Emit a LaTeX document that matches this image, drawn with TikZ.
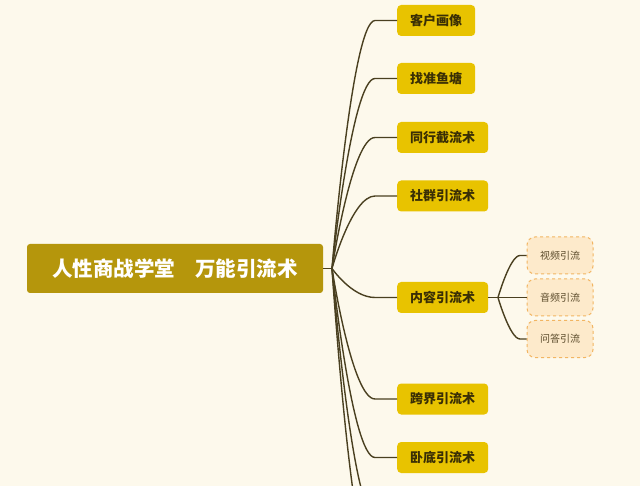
\documentclass[tikz,border=0pt]{standalone}
\usepackage{fontspec}
\setmainfont{Noto Sans CJK SC}
\definecolor{bgc}{HTML}{FDF9EC}
\definecolor{rootc}{HTML}{B5960C}
\definecolor{topc}{HTML}{E8C300}
\definecolor{textc}{HTML}{3A2F05}
\definecolor{subc}{HTML}{FDEACB}
\definecolor{subb}{HTML}{F2B562}
\definecolor{subt}{HTML}{5A4A2A}
\definecolor{linec}{HTML}{4A4020}
\begin{document}
\begin{tikzpicture}[x=1pt,y=-1pt,
 rootbox/.style={fill=rootc, rounded corners=3pt, text=white, font=\bfseries\fontsize{20.5}{22}\selectfont, minimum width=296pt, minimum height=49pt, inner sep=0pt},
 topic/.style={fill=topc, rounded corners=4pt, text=textc, font=\bfseries\fontsize{13}{15}\selectfont, minimum height=31pt, inner sep=0pt, anchor=west},
 subbox/.style={fill=subc, draw=subb, dashed, line width=1pt, rounded corners=8pt, text=subt, font=\fontsize{10}{12}\selectfont, minimum width=66pt, minimum height=37pt, inner sep=0pt},
 link/.style={draw=linec, line width=1.4pt}]
\fill[bgc] (0,0) rectangle (640,486);
\useasboundingbox (0,0) rectangle (640,486);
\node[rootbox] (root) at (175,268.5) {人性商战学堂\hspace{1em}万能引流术};
\node[topic, minimum width=78pt] (t1) at (397,20.5) {客户画像};
\node[topic, minimum width=78pt] (t2) at (397,78.5) {找准鱼塘};
\node[topic, minimum width=91pt] (t3) at (397,137.5) {同行截流术};
\node[topic, minimum width=91pt] (t4) at (397,196) {社群引流术};
\node[topic, minimum width=91pt] (t5) at (397,297.5) {内容引流术};
\node[topic, minimum width=91pt] (t6) at (397,399) {跨界引流术};
\node[topic, minimum width=91pt] (t7) at (397,457.5) {卧底引流术};
\node[subbox] (s1) at (560,255.5) {视频引流};
\node[subbox] (s2) at (560,297.5) {音频引流};
\node[subbox] (s3) at (560,339) {问答引流};
\coordinate (J) at (332,268.5);
\coordinate (cx1) at (352,0);
\coordinate (cx2) at (375,0);
\coordinate (o1) at (397,516);
\coordinate (o2) at (397,575);
\coordinate (J2) at (498,297.5);
\coordinate (dx1) at (510,0);
\coordinate (dx2) at (520,0);
\begin{scope}
\clip (0,0) rectangle (640,486);
\draw[link] (root.east) -- (J);
\foreach \t in {t1,t2,t3,t4,t5,t6,t7,o1,o2}{
  \draw[link] (J) .. controls (J) and (cx1 |- \t) .. (cx2 |- \t) -- (\t);
}
\draw[link] (t5.east) -- (J2);
\foreach \s in {s1,s2,s3}{
  \draw[link] (J2) .. controls (J2) and (dx1 |- \s.west) .. (dx2 |- \s.west) -- (\s.west);
}
\end{scope}
\end{tikzpicture}
\end{document}
